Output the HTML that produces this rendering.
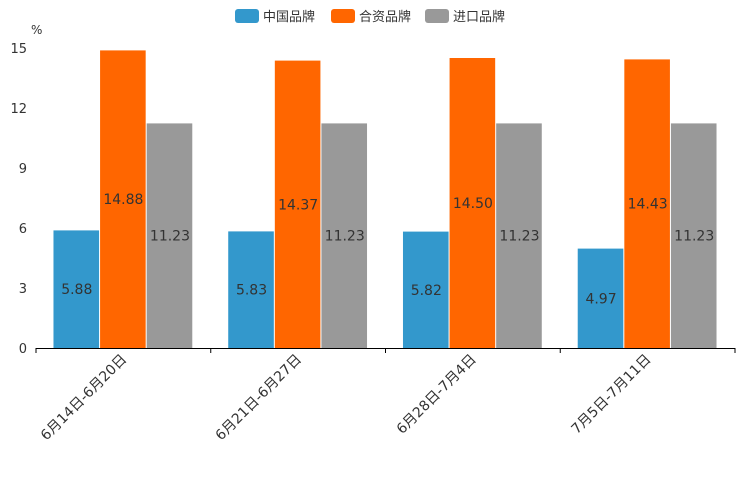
<!DOCTYPE html>
<html><head><meta charset="utf-8"><style>
body{margin:0;background:#fff;}
svg{display:block;font-family:"DejaVu Sans","Noto Sans CJK SC",sans-serif;}
</style></head><body>
<svg id="chart" width="744" height="496"></svg>
<script>
const categories=["6月14日-6月20日","6月21日-6月27日","6月28日-7月4日","7月5日-7月11日"];
const seriesNames=["中国品牌","合资品牌","进口品牌"];
const chinaValues=[5.88,5.83,5.82,4.97];
const jointValues=[14.88,14.37,14.50,14.43];
const importValues=[11.23,11.23,11.23,11.23];
const yTicks=[0,3,6,9,12,15];
const colors=["#3398cc","#ff6600","#999999"];
const series=[chinaValues,jointValues,importValues];
const svg=document.getElementById('chart');
const NS='http://www.w3.org/2000/svg';
const x0=36,x1=735,yBase=348,yTop=48,yMax=15;
const y=v=>yBase-(v/yMax)*(yBase-yTop);
const gw=(x1-x0)/categories.length;
function mk(t,a,p){const e=document.createElementNS(NS,t);for(const k in a)e.setAttribute(k,a[k]);(p||svg).appendChild(e);return e;}
const lx=[235,331,425];
seriesNames.forEach((n,i)=>{
 const r=mk('rect',{x:lx[i],y:9,width:24,height:14,rx:3,fill:colors[i]});
 
 
 const t=mk('text',{x:lx[i]+28,y:21,'font-size':13,fill:'#333'});t.textContent=n;
 
 
});
const u=mk('text',{x:31,y:34,'font-size':12,fill:'#333'});u.textContent='%';


yTicks.forEach(v=>{
 const t=mk('text',{x:27,y:y(v)+5,'font-size':13,fill:'#333','text-anchor':'end'});t.textContent=v;
 
 
});
const pad=gw*0.1,bw=(gw-2*pad)/3;
categories.forEach((c,gi)=>{
 const gx=x0+gi*gw;
 series.forEach((s,si)=>{
  const v=s[gi],bx=gx+pad+si*bw;
  const r=mk('rect',{x:bx,y:y(v),width:bw-1,height:yBase-y(v),fill:colors[si]});
  
  
  const t=mk('text',{x:bx+bw/2,y:(y(v)+yBase)/2+5,'font-size':14,fill:'#333','text-anchor':'middle'});
  t.textContent=v.toFixed(2);
  
  
 });
 const cx=gx+gw/2;
 const t=mk('text',{x:cx+4,y:360,'font-size':14,fill:'#333','text-anchor':'end',transform:`rotate(-45 ${cx+4} 360)`});
 t.textContent=c;
 
 
});
const ax=mk('line',{x1:x0,x2:x1,y1:yBase+0.5,y2:yBase+0.5,stroke:'#000'});


for(let i=0;i<=categories.length;i++){
 const xx=x0+i*gw;
 const tk=mk('line',{x1:xx,x2:xx,y1:yBase,y2:yBase+5,stroke:'#000'});
 
 
}
</script>
</body></html>
